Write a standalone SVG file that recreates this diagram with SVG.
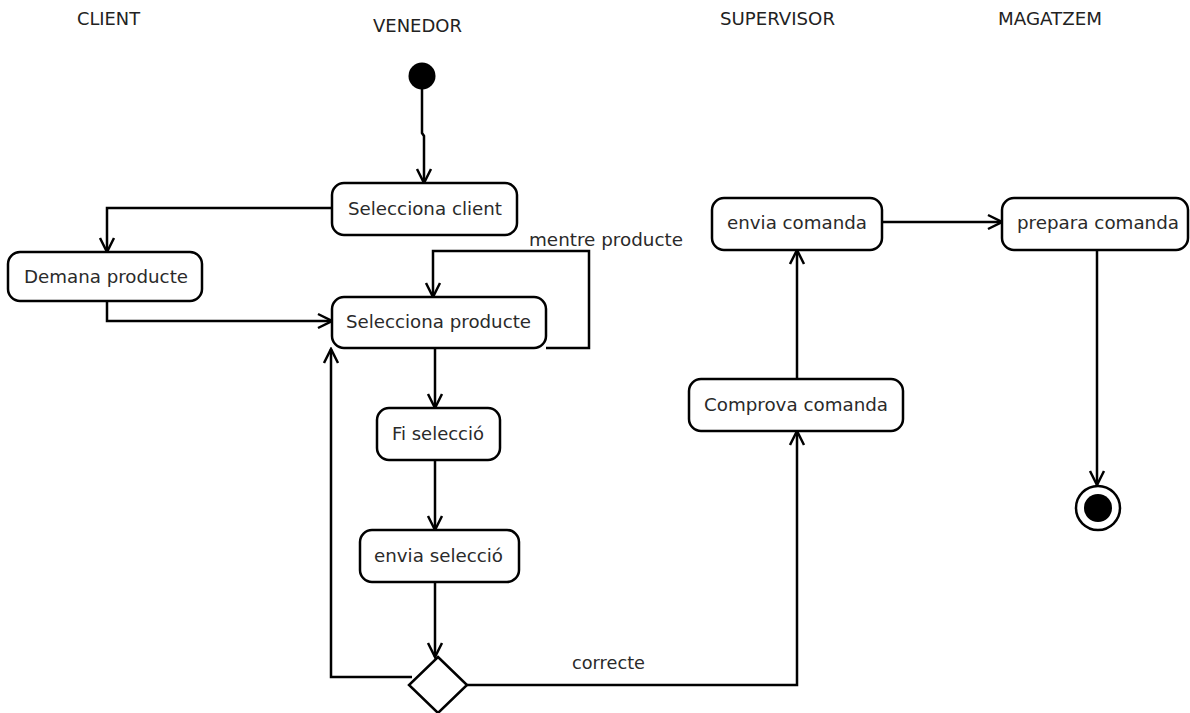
<svg xmlns="http://www.w3.org/2000/svg" width="1190" height="713" viewBox="0 0 1190 713">
<style>
.lane{font-family:"DejaVu Sans",Verdana,sans-serif;font-size:17px;fill:#222}
.box{fill:#fff;stroke:#000;stroke-width:2.5}
.lbl{font-family:"DejaVu Sans",Verdana,sans-serif;font-size:17px;fill:#2a2a2a}
.edge{fill:none;stroke:#000;stroke-width:2.5}
</style>
<defs>
<marker id="arr" viewBox="-16 -9 18 18" refX="0" refY="0" markerWidth="18" markerHeight="18" markerUnits="userSpaceOnUse" orient="auto">
<path d="M-14,-7 L0,0 L-14,7" fill="none" stroke="#000" stroke-width="2.5"/>
</marker>
</defs>
<rect width="1190" height="713" fill="#fff"/>
<g id="lanes">
<text class="lane" x="77" y="25" textLength="63" lengthAdjust="spacingAndGlyphs">CLIENT</text>
<text class="lane" x="373" y="32" textLength="89" lengthAdjust="spacingAndGlyphs">VENEDOR</text>
<text class="lane" x="720" y="25" textLength="115" lengthAdjust="spacingAndGlyphs">SUPERVISOR</text>
<text class="lane" x="998" y="25" textLength="104" lengthAdjust="spacingAndGlyphs">MAGATZEM</text>
</g>
<g id="connectors">
<path class="edge" d="M422,89 L422,133 L424,136 L424,183" marker-end="url(#arr)"/>
<path class="edge" d="M332,208 L107,208 L107,252" marker-end="url(#arr)"/>
<path class="edge" d="M107,301 L107,321 L332,321" marker-end="url(#arr)"/>
<path class="edge" d="M546,348 L589,348 L589,251 L433,251 L433,297" marker-end="url(#arr)"/>
<path class="edge" d="M435,348 L435,408" marker-end="url(#arr)"/>
<path class="edge" d="M435,460 L435,530" marker-end="url(#arr)"/>
<path class="edge" d="M435,582 L435,657" marker-end="url(#arr)"/>
<path class="edge" d="M412,677 L331,677 L331,349" marker-end="url(#arr)"/>
<path class="edge" d="M467,685 L797,685 L797,431" marker-end="url(#arr)"/>
<path class="edge" d="M797,379 L797,250" marker-end="url(#arr)"/>
<path class="edge" d="M882,222 L1002,222" marker-end="url(#arr)"/>
<path class="edge" d="M1097,250 L1097,485" marker-end="url(#arr)"/>
<text class="lbl" x="529" y="246" textLength="154" lengthAdjust="spacingAndGlyphs">mentre producte</text>
<text class="lbl" x="572" y="669" textLength="73" lengthAdjust="spacingAndGlyphs">correcte</text>
</g>
<g id="start"><ellipse cx="422" cy="76" rx="13.5" ry="13.5" fill="#000"/></g>
<g id="sel-client"><rect class="box" x="332" y="183" width="185" height="52" rx="12"/><text class="lbl" x="348" y="215" textLength="154" lengthAdjust="spacingAndGlyphs">Selecciona client</text></g>
<g id="demana"><rect class="box" x="8" y="252" width="194" height="49" rx="12"/><text class="lbl" x="24" y="283" textLength="164" lengthAdjust="spacingAndGlyphs">Demana producte</text></g>
<g id="sel-producte"><rect class="box" x="332" y="297" width="214" height="51" rx="12"/><text class="lbl" x="346" y="328" textLength="185" lengthAdjust="spacingAndGlyphs">Selecciona producte</text></g>
<g id="fi-seleccio"><rect class="box" x="377" y="408" width="123" height="52" rx="12"/><text class="lbl" x="392" y="440" textLength="92" lengthAdjust="spacingAndGlyphs">Fi selecció</text></g>
<g id="envia-seleccio"><rect class="box" x="360" y="530" width="159" height="52" rx="12"/><text class="lbl" x="374" y="562" textLength="129" lengthAdjust="spacingAndGlyphs">envia selecció</text></g>
<g id="decision"><polygon class="box" points="438,657 467,685 438,713 409,685"/></g>
<g id="comprova"><rect class="box" x="689" y="379" width="214" height="52" rx="12"/><text class="lbl" x="704" y="411" textLength="184" lengthAdjust="spacingAndGlyphs">Comprova comanda</text></g>
<g id="envia-comanda"><rect class="box" x="712" y="198" width="170" height="52" rx="12"/><text class="lbl" x="727" y="229" textLength="140" lengthAdjust="spacingAndGlyphs">envia comanda</text></g>
<g id="prepara"><rect class="box" x="1002" y="198" width="186" height="52" rx="12"/><text class="lbl" x="1017" y="229" textLength="162" lengthAdjust="spacingAndGlyphs">prepara comanda</text></g>
<g id="end"><circle cx="1098" cy="508" r="22" fill="#fff" stroke="#000" stroke-width="2.5"/><circle cx="1098" cy="508" r="14" fill="#000"/></g>
</svg>
